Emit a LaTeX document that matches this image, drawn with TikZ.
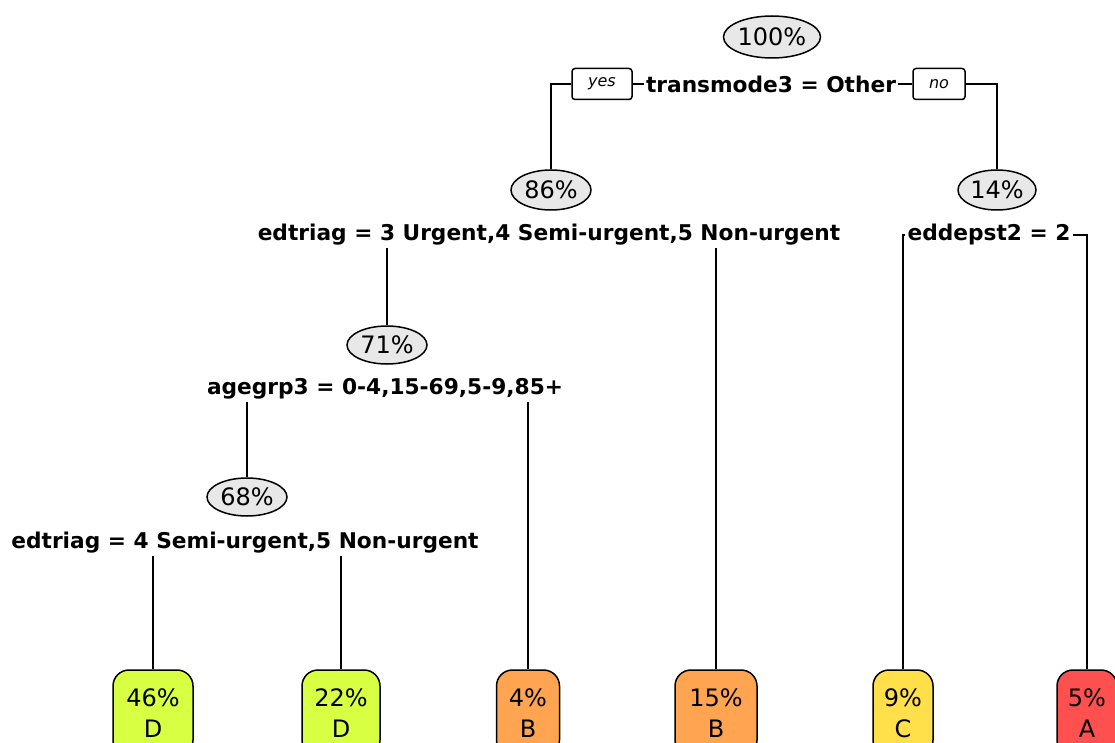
\documentclass[tikz,border=0pt]{standalone}
\usepackage{fontspec}
\setmainfont{DejaVu Sans}[BoldFont={DejaVu Sans Bold},ItalicFont={DejaVu Sans Oblique}]
\usetikzlibrary{shapes.geometric}
\definecolor{ellgray}{RGB}{232,232,232}
\definecolor{leafD}{RGB}{216,255,66}
\definecolor{leafB}{RGB}{255,164,80}
\definecolor{leafC}{RGB}{255,224,75}
\definecolor{leafA}{RGB}{255,80,80}
\begin{document}
\begin{tikzpicture}[x=1pt,y=-1pt,
  pct/.style={ellipse, draw, fill=ellgray, line width=1.5pt, inner sep=0pt, font=\fontsize{24}{28}\selectfont},
  splittext/.style={font=\bfseries\fontsize{21.7}{25}\selectfont, inner sep=2pt},
  yn/.style={draw, rounded corners=3pt, line width=1.5pt, font=\itshape\fontsize{16}{19}\selectfont, minimum height=31, inner sep=0pt},
  leaf/.style={draw, rounded corners=16pt, align=center, line width=1.5pt, font=\fontsize{24}{31}\selectfont, minimum height=86, inner sep=0pt},
  edge/.style={line width=1.8pt}]
\useasboundingbox (0,0) rectangle (1115,743);
\clip (0,0) rectangle (1115,743);
% percentage ellipses
\node[pct, minimum width=95, minimum height=42] (e100) at (772,37) {100\%};
\node[pct, minimum width=80, minimum height=40] (e86) at (551,190) {86\%};
\node[pct, minimum width=78, minimum height=40] (e14) at (997,190) {14\%};
\node[pct, minimum width=80, minimum height=38] (e71) at (387,345) {71\%};
\node[pct, minimum width=80, minimum height=38] (e68) at (247,497) {68\%};
% split texts
\node[splittext] (s1) at (771,84) {transmode3 = Other};
\node[splittext] (s2) at (549,235) {edtriag = 3 Urgent,4 Semi-urgent,5 Non-urgent};
\node[splittext] (s3) at (989,235) {eddepst2 = 2};
\node[splittext] (s4) at (385,389) {agegrp3 = 0-4,15-69,5-9,85+};
\node[splittext] (s5) at (245,543) {edtriag = 4 Semi-urgent,5 Non-urgent};
% yes / no
\path (s1.center) ++(-169,0) node[yn, minimum width=60] (yes) {yes};
\path (s1.center) ++(168,0) node[yn, minimum width=52] (no) {no};
% leaves
\node[leaf, fill=leafD, minimum width=80] (l46) at (153,713) {46\%\\D};
\node[leaf, fill=leafD, minimum width=78] (l22) at (341,713) {22\%\\D};
\node[leaf, fill=leafB, minimum width=63] (l4) at (528,713) {4\%\\B};
\node[leaf, fill=leafB, minimum width=82] (l15) at (716,713) {15\%\\B};
\node[leaf, fill=leafC, minimum width=60] (l9) at (903,713) {9\%\\C};
\node[leaf, fill=leafA, minimum width=60] (l5) at (1087,713) {5\%\\A};
% connectors
\draw[edge] (s1.west) -- (yes.east);
\draw[edge] (yes.west) -| (e86.north);
\draw[edge] (s1.east) -- (no.west);
\draw[edge] (no.east) -| (e14.north);
\draw[edge] (s2.south -| e71.north) -- (e71.north);
\draw[edge] (s2.south -| l15.north) -- (l15.north);
\draw[edge] (s3.west) -| (l9.north);
\draw[edge] (s3.east) -| (l5.north);
\draw[edge] (s4.south -| e68.north) -- (e68.north);
\draw[edge] (s4.south -| l4.north) -- (l4.north);
\draw[edge] (s5.south -| l46.north) -- (l46.north);
\draw[edge] (s5.south -| l22.north) -- (l22.north);
\end{tikzpicture}
\end{document}
